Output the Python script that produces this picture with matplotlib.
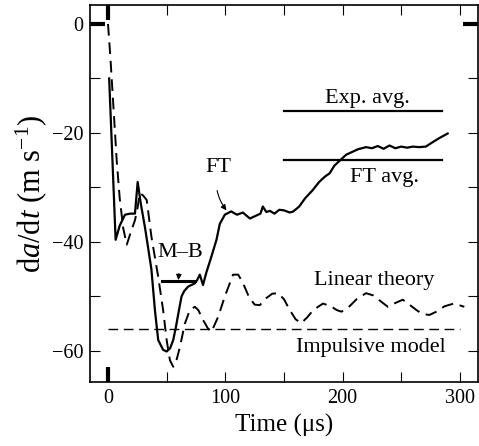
import matplotlib
matplotlib.use("Agg")
import matplotlib.pyplot as plt

plt.rcParams['font.family'] = ['Liberation Serif', 'DejaVu Serif']
plt.rcParams['mathtext.fontset'] = 'custom'
plt.rcParams['mathtext.rm'] = 'Liberation Serif'
plt.rcParams['mathtext.it'] = 'Liberation Serif:italic'

# FT (solid) curve, time in microseconds
ft_t = [1, 6.5, 10, 14.5, 19, 23, 25.3, 28, 31.5, 37, 40, 42.8, 47, 50, 53, 55.6,
        58, 60, 62.7, 65, 68.3, 74, 76, 78.3, 81, 84, 88, 92.5, 95.3, 99.6, 105,
        110, 115, 121, 126, 130, 132, 135, 138, 142, 146, 150, 155, 158, 163, 168,
        174.5, 180, 185, 189, 193, 197, 203, 208, 213, 220, 225, 230, 235, 240,
        245, 250, 255, 260, 265, 271, 276, 282, 289.6]
ft_v = [-10, -39.6, -37, -35, -34.8, -34.8, -29, -33, -37.3, -45, -52.5, -58, -59.8,
        -60.1, -59.5, -58, -55.5, -53.1, -50, -49, -48.2, -47.6, -47, -46, -47.9,
        -45.5, -42.8, -39.6, -36.7, -35, -34.4, -35, -34.6, -35.7, -35.2, -34.8,
        -33.5, -34.5, -34.3, -34.8, -34.1, -34.2, -34.6, -34.4, -33.5, -32, -30.5,
        -29, -28, -27.4, -26, -25.2, -24, -23.5, -23, -22.6, -22.8, -22.4, -22.9,
        -22.3, -22.8, -22.5, -22.7, -22.5, -22.6, -22.5, -21.8, -21, -20.1]

# linear theory (dashed)
lin_t = [0, 2, 4, 6, 7.4, 10, 13, 16, 19, 23, 25, 27.2, 30, 33, 37, 42.8, 47, 50,
         52.8, 55.6, 58, 61.3, 65.5, 69.8, 74, 77, 81, 85, 88.2, 94, 99.6, 106.6,
         111, 115, 120, 125, 129.4, 135, 140, 145, 150, 155, 160, 164.8, 170, 175,
         183.3, 190, 195, 199, 205, 212, 220, 226, 232, 238.6, 245, 251.3, 257, 263,
         268, 274, 280, 287, 295, 303.8]
lin_v = [0, -6, -13, -20, -25, -32, -37.5, -40.5, -38.5, -36, -34, -31, -31.5, -32.3,
         -39, -46.4, -52.5, -58, -61.7, -62.9, -62, -59.3, -55, -52.5, -51.9, -52.5,
         -54.3, -55.8, -56.5, -53.7, -50, -46, -46, -47.5, -50, -51.5, -51.6, -50.3,
         -49.5, -49.4, -50.5, -52.5, -54.2, -54.9, -53.8, -52.5, -51.3, -51.8, -52.5,
         -52.8, -52, -50.5, -49.4, -49.8, -50.8, -51.9, -51.2, -50.6, -51.5, -52.5,
         -53.2, -53.4, -52.8, -51.8, -51.3, -51.9]

# horizontal reference levels
impulsive = -56
impulsive_t = [0, 300]
exp_avg = -16
ft_avg = -25
avg_t = [150, 285]
mb = -47.2
mb_t = [46, 74]

fig = plt.figure(figsize=(4.79, 4.46), dpi=100)
ax = fig.add_axes([0.188, 0.1435, 0.81, 0.8455])

ax.plot(ft_t, ft_v, color='black', lw=1.6)
ax.plot(lin_t, lin_v, color='black', lw=1.4, dashes=(6, 3.5))
ax.plot(impulsive_t, [impulsive] * 2, color='black', lw=1.0, dashes=(7, 4))
ax.plot(avg_t, [exp_avg] * 2, color='black', lw=1.6)
ax.plot(avg_t, [ft_avg] * 2, color='black', lw=1.6)
ax.plot(mb_t, [mb] * 2, color='black', lw=2.2)

fs = 16
ax.text(221, -13.6, 'Exp. avg.', fontsize=fs, ha='center', va='center')
ax.text(236, -28.2, 'FT avg.', fontsize=fs, ha='center', va='center')
ax.text(227, -47, 'Linear theory', fontsize=fs, ha='center', va='center')
ax.text(224, -59.3, 'Impulsive model', fontsize=fs, ha='center', va='center')
ax.annotate('FT', xy=(101, -34.2), xytext=(94, -26.3), fontsize=fs,
            ha='center', va='center',
            arrowprops=dict(arrowstyle='-|>', color='black', lw=0.8,
                            shrinkA=8, shrinkB=0, mutation_scale=8,
                            connectionstyle='arc3,rad=0.25'))
ax.annotate('M\u2013B', xy=(60, -47), xytext=(62, -42), fontsize=fs,
            ha='center', va='center',
            arrowprops=dict(arrowstyle='-|>', color='black', lw=0.8,
                            shrinkA=6, shrinkB=0, mutation_scale=8))

ax.set_xlim(-15.3, 315.5)
ax.set_ylim(-65.7, 3.5)
ax.set_xticks([0, 100, 200, 300])
ax.set_xticks([50, 150, 250], minor=True)
ax.set_yticks([0, -20, -40, -60])
ax.set_yticks([-10, -30, -50], minor=True)
ax.set_yticklabels(['0', '\u221220', '\u221240', '\u221260'])
ax.tick_params(which='both', direction='in', top=True, right=True,
               length=7, width=0.8, labelsize=14.5)
ax.tick_params(axis='x', pad=5)
ax.tick_params(axis='y', pad=5)

# heavy marks at the origin
for tk in ax.xaxis.get_major_ticks()[:1] + ax.yaxis.get_major_ticks()[:1]:
    for ln in (tk.tick1line, tk.tick2line):
        ln.set_markeredgewidth(3)
        ln.set_markersize(11)

for s in ax.spines.values():
    s.set_linewidth(1.2)

ax.set_xlabel('Time (\u03bcs)', fontsize=18, labelpad=4)
ax.set_ylabel(r'd$\it{a}$/d$\it{t}$ (m s$^{-1}$)', fontsize=22, labelpad=2)

fig.savefig('out.png', dpi=100)
